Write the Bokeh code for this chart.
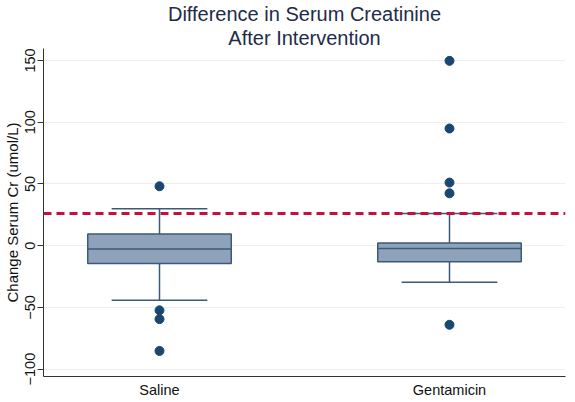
from bokeh.plotting import figure
from bokeh.models import Title, FixedTicker, Range1d, Span
from bokeh.embed import file_html
from bokeh.resources import INLINE

# Data
groups = ["Saline", "Gentamicin"]
q1 = [-14.4, -13.0]
median = [-2.7, -2.4]
q3 = [9.5, 2.2]
whisker_low = [-44.3, -29.6]
whisker_high = [29.9, 26.1]
outliers_saline = [48.1, -52.4, -59.5, -85.3]
outliers_gentamicin = [149.7, 94.9, 51.1, 42.4, -64.1]
threshold = 26.0
y_ticks = [-100, -50, 0, 50, 100, 150]
title_lines = ["Difference in Serum Creatinine", "After Intervention"]

xpos = [1, 2]
box_w = 0.495
cap_w = 0.33

navy = "#1a476f"
box_line = "#3b5a79"
box_fill = "#8ea3ba"
red = "#c4103c"
title_col = "#1e2b4a"
font = "Liberation Sans"

p = figure(width=567, height=400, output_backend="svg", toolbar_location=None,
           x_range=Range1d(0.6, 2.4), y_range=Range1d(-106.0, 159.7),
           min_border_left=0, min_border_right=2, min_border_top=0, min_border_bottom=0)
p.title = None

# whiskers
p.segment(x0=xpos, y0=q3, x1=xpos, y1=whisker_high, line_color=box_line, line_width=1.5)
p.segment(x0=xpos, y0=q1, x1=xpos, y1=whisker_low, line_color=box_line, line_width=1.5)
p.segment(x0=[x - cap_w / 2 for x in xpos], y0=whisker_high,
          x1=[x + cap_w / 2 for x in xpos], y1=whisker_high, line_color=box_line, line_width=1.5)
p.segment(x0=[x - cap_w / 2 for x in xpos], y0=whisker_low,
          x1=[x + cap_w / 2 for x in xpos], y1=whisker_low, line_color=box_line, line_width=1.5)
# boxes
p.quad(left=[x - box_w / 2 for x in xpos], right=[x + box_w / 2 for x in xpos],
       bottom=q1, top=q3, fill_color=box_fill, line_color=box_line, line_width=1.5)
p.segment(x0=[x - box_w / 2 for x in xpos], y0=median,
          x1=[x + box_w / 2 for x in xpos], y1=median, line_color=box_line, line_width=1.5)
# outliers
p.scatter(x=[1] * len(outliers_saline), y=outliers_saline, size=9,
          fill_color=navy, line_color=navy)
p.scatter(x=[2] * len(outliers_gentamicin), y=outliers_gentamicin, size=9,
          fill_color=navy, line_color=navy)

# threshold line
p.add_layout(Span(location=threshold, dimension="width", line_color=red,
                  line_width=3, line_dash="8 5"))

# titles (second line added first so it sits closer to the plot)
p.add_layout(Title(text=title_lines[1], align="center", text_font=font,
                   text_font_size="20px", text_font_style="normal", text_color=title_col,
                   standoff=0), "above")
p.add_layout(Title(text=title_lines[0], align="center", text_font=font,
                   text_font_size="20px", text_font_style="normal", text_color=title_col,
                   standoff=0), "above")

# axes
p.xaxis.ticker = FixedTicker(ticks=xpos)
p.xaxis.major_label_overrides = {1: groups[0], 2: groups[1]}
p.xaxis.major_tick_line_color = None
p.xaxis.major_tick_out = 0
p.xaxis.major_tick_in = 0
p.xaxis.minor_tick_line_color = None
p.xaxis.axis_line_color = "#333333"
p.xaxis.major_label_text_font = font
p.xaxis.major_label_text_font_size = "14.5px"
p.xaxis.major_label_text_color = "#111111"
p.xaxis.major_label_standoff = 5

p.yaxis.ticker = FixedTicker(ticks=y_ticks)
p.yaxis.major_label_orientation = "vertical"
p.yaxis.axis_label = "Change Serum Cr (umol/L)"
p.yaxis.axis_label_text_font = font
p.yaxis.axis_label_text_font_size = "15px"
p.yaxis.axis_label_text_font_style = "normal"
p.yaxis.axis_label_text_color = "#111111"
p.yaxis.axis_label_standoff = 2
p.yaxis.major_label_text_font = font
p.yaxis.major_label_text_font_size = "14.5px"
p.yaxis.major_label_text_color = "#111111"
p.yaxis.major_label_standoff = 2
p.yaxis.major_tick_out = 6
p.yaxis.major_tick_in = 0
p.yaxis.minor_tick_line_color = None
p.yaxis.axis_line_color = "#333333"
p.yaxis.major_tick_line_color = "#333333"

p.xgrid.grid_line_color = None
p.ygrid.grid_line_color = "#eeeeee"
p.outline_line_color = None
p.background_fill_color = "white"
p.border_fill_color = "white"

open("out.html", "w").write(file_html(p, INLINE))
